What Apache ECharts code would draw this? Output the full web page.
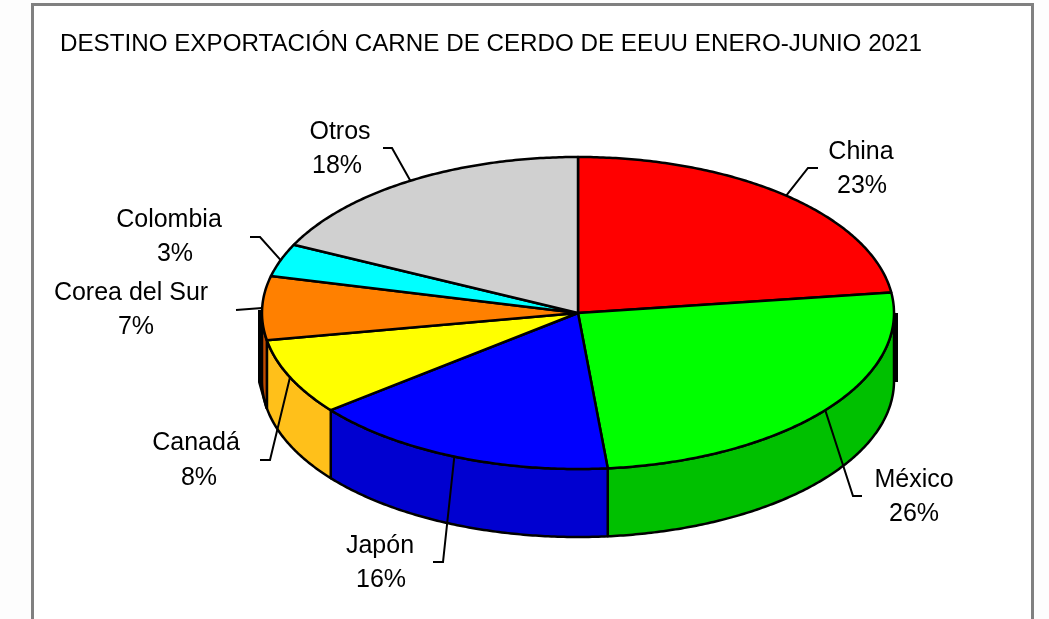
<!DOCTYPE html>
<html>
<head>
<meta charset="utf-8">
<style>html,body{margin:0;padding:0;background:#fdfdfd}#c{width:1049px;height:619px}</style>
<script src="https://cdn.jsdelivr.net/npm/echarts@6/dist/echarts.min.js"></script>
</head>
<body>
<div id="c"></div>
<script>
// Data
const titleText = 'DESTINO EXPORTACIÓN CARNE DE CERDO DE EEUU ENERO-JUNIO 2021';
const categories = ['China', 'México', 'Japón', 'Canadá', 'Corea del Sur', 'Colombia', 'Otros'];
const values = [22.9, 25.6, 15.8, 7.9, 6.6, 3.4, 17.8];
const percentLabels = ['23%', '26%', '16%', '8%', '7%', '3%', '18%'];
// Colours
const topColors = ['#ff0000', '#00ff00', '#0000ff', '#ffff00', '#ff8000', '#00ffff', '#d0d0d0'];
const sideColors = ['#c00000', '#00c000', '#0000d0', '#ffc01a', '#c04c00', '#00c0c0', '#a0a0a0'];
// Layout
const CX = 578, CY = 313, RX = 316, RY = 156, DEPTH = 68;
const nameCenters = [[861, 152.5], [914, 480.5], [380, 546], [196, 443.5], [131, 293.5], [169, 220.5], [340, 132.5]];
const percentCenters = [[862, 186.5], [914, 514.5], [381, 580.5], [199, 478.5], [136, 327.5], [175, 254.5], [337, 166.5]];
const leaderElbows = [
  [[808, 168], [818, 168]],
  [[853, 496], [862, 496]],
  [[443, 562], [433, 562]],
  [[270, 460], [260, 460]],
  [[236, 310]],
  [[260, 237], [250, 237]],
  [[392, 148], [383, 148]]
];

const total = values.reduce((a, b) => a + b, 0);
const bounds = [0];
values.forEach((v, i) => bounds.push(bounds[i] + v / total * Math.PI * 2));
const rim = (t, dy) => [CX + RX * Math.sin(t), CY + dy - RY * Math.cos(t)];
function arc(a, b, dy) {
  const n = Math.max(2, Math.ceil(Math.abs(b - a) / 0.01));
  const pts = [];
  for (let i = 0; i <= n; i++) pts.push(rim(a + (b - a) * i / n, dy));
  return pts;
}
const dataset = categories.map((c, i) => [i, values[i]]);
const outline = { stroke: '#000', lineWidth: 2.5, lineJoin: 'round' };
const font = { fill: '#000', align: 'center', verticalAlign: 'middle', fontFamily: 'Liberation Sans', fontSize: 25 };

const option = {
  backgroundColor: 'transparent',
  animation: false,
  title: {
    text: titleText, left: 55, top: 27.5,
    textStyle: { color: '#000', fontFamily: 'Liberation Sans', fontSize: 24.2, fontWeight: 'normal' }
  },
  graphic: [{
    type: 'polyline', silent: true, z: -1,
    shape: { points: [[32.5, 622], [32.5, 4.5], [1032.5, 4.5], [1032.5, 622]] },
    style: { stroke: '#808080', lineWidth: 3, fill: '#fff' }
  }],
  series: [
    { // rear edges seen past the wall
      type: 'custom', coordinateSystem: 'none', data: [[0]], z: 1, clip: false,
      renderItem() {
        return {
          type: 'group',
          children: [
            { type: 'polyline', silent: true,
              shape: { points: [[CX - RX - 2.5, CY - 3], [CX - RX - 2.5, CY + DEPTH + 1], rim(bounds[4], DEPTH)] },
              style: { stroke: '#000', lineWidth: 3, fill: null } },
            { type: 'polyline', silent: true,
              shape: { points: [[CX + RX + 2.5, CY], [CX + RX + 2.5, CY + DEPTH + 1]] },
              style: { stroke: '#000', lineWidth: 3, fill: null } }
          ]
        };
      }
    },
    { // wall of the pie
      type: 'custom', coordinateSystem: 'none', data: dataset, z: 2, clip: false,
      renderItem(p, api) {
        const i = api.value(0);
        const a = Math.max(bounds[i], Math.PI / 2), b = Math.min(bounds[i + 1], Math.PI * 1.5);
        if (b <= a) return { type: 'group', children: [] };
        const points = arc(a, b, 0).concat(arc(b, a, DEPTH));
        return { type: 'polygon', shape: { points }, style: Object.assign({ fill: sideColors[i] }, outline) };
      }
    },
    { // top face
      type: 'custom', coordinateSystem: 'none', data: dataset, z: 3, clip: false,
      renderItem(p, api) {
        const i = api.value(0);
        const points = [[CX, CY]].concat(arc(bounds[i], bounds[i + 1], 0));
        return { type: 'polygon', shape: { points }, style: Object.assign({ fill: topColors[i] }, outline) };
      }
    },
    { // leaders and labels
      type: 'custom', coordinateSystem: 'none', data: dataset, z: 4, clip: false,
      renderItem(p, api) {
        const i = api.value(0);
        const mid = (bounds[i] + bounds[i + 1]) / 2;
        const points = [rim(mid, 0)].concat(leaderElbows[i]);
        return {
          type: 'group',
          children: [
            { type: 'polyline', shape: { points }, style: { stroke: '#000', lineWidth: 2, fill: null } },
            { type: 'text', x: nameCenters[i][0], y: nameCenters[i][1],
              style: Object.assign({ text: categories[i] }, font) },
            { type: 'text', x: percentCenters[i][0], y: percentCenters[i][1],
              style: Object.assign({ text: percentLabels[i] }, font) }
          ]
        };
      }
    }
  ]
};
echarts.init(document.getElementById('c'), null, { renderer: 'canvas' }).setOption(option);
</script>
</body>
</html>
